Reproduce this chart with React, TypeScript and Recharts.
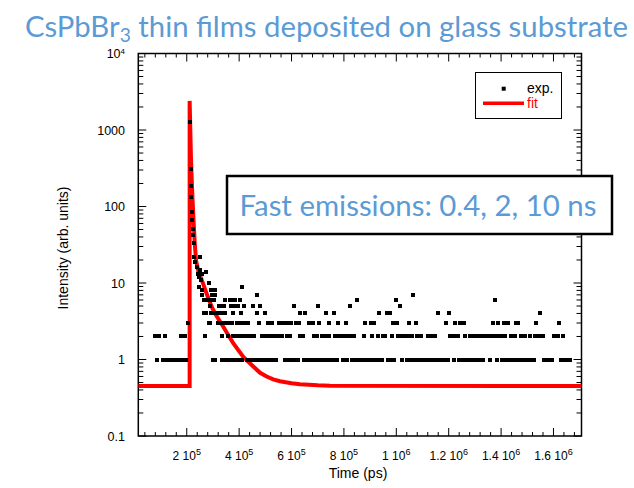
import React from 'react';
import { ComposedChart, Scatter, Line, XAxis, YAxis, Legend, ReferenceArea, Label } from 'recharts';

// ---------------- data ----------------
const T_UNIT = 1000; // time arrays below are in units of 10^3 ps

// experimental counts, grouped by count level (times in 10^3 ps)
const count1Times = [87, 108, 120, 131, 143, 154, 166, 177, 189, 197, 300, 308, 335, 346, 358, 369, 381, 392, 404, 411, 430, 442, 453, 465, 476, 488, 499, 511, 522, 534, 541, 575, 587, 598, 610, 621, 625, 648, 659, 671, 682, 694, 705, 717, 728, 740, 751, 763, 774, 797, 812, 831, 842, 854, 865, 877, 888, 900, 911, 923, 934, 945, 968, 980, 991, 1022, 1041, 1053, 1064, 1076, 1087, 1099, 1110, 1122, 1133, 1145, 1156, 1168, 1179, 1191, 1197, 1220, 1239, 1251, 1262, 1274, 1285, 1297, 1308, 1320, 1331, 1358, 1385, 1404, 1415, 1427, 1438, 1450, 1461, 1473, 1484, 1496, 1507, 1519, 1526, 1564, 1576, 1587, 1594, 1629, 1640, 1652, 1663];
const count2Times = [78, 86, 93, 116, 178, 192, 270, 335, 357, 376, 387, 399, 410, 422, 433, 445, 457, 487, 499, 510, 522, 533, 545, 556, 564, 583, 594, 633, 644, 684, 696, 717, 728, 740, 743, 766, 778, 789, 801, 812, 824, 835, 839, 877, 907, 930, 949, 957, 984, 1007, 1018, 1030, 1041, 1053, 1060, 1078, 1093, 1121, 1132, 1144, 1148, 1205, 1217, 1228, 1236, 1262, 1281, 1293, 1304, 1316, 1327, 1339, 1350, 1361, 1373, 1384, 1396, 1407, 1415, 1438, 1453, 1476, 1491, 1510, 1530, 1541, 1553, 1560, 1602, 1617, 1636];
const count3Times = [203, 284, 289, 320, 331, 343, 354, 366, 373, 392, 403, 415, 426, 434, 476, 510, 526, 551, 563, 574, 586, 597, 617, 628, 667, 682, 705, 743, 778, 809, 881, 904, 915, 988, 1003, 1049, 1075, 1190, 1224, 1243, 1259, 1369, 1388, 1411, 1427, 1457, 1465, 1533, 1621];
const count4Times = [266, 275, 293, 304, 316, 327, 339, 345, 376, 406, 468, 499, 633, 650, 732, 762, 934, 965, 976, 1159, 1201, 1549];
const count5Times = [290, 322, 333, 342, 368, 379, 391, 396, 418, 454, 480, 610, 701, 823, 1014];
const count6Times = [266, 278, 289, 300, 304, 345, 364, 376, 386, 405, 850, 999, 1377];
const count7Times = [257, 297, 309, 467, 1064];
const count8Times = [260, 294, 307];
const count9Times = [247, 410];
const count10Times = [284];

// points on the fast decay
const decayTimes = [213, 215, 216, 218, 219, 221, 222, 224, 226, 229, 231, 240, 243, 248, 249, 251, 253, 257, 274, 286, 299];
const decayCounts = [1260, 311, 188, 133, 85, 66, 51, 42, 33, 22, 19, 16, 13, 12, 15, 22, 11, 13, 14, 10, 8];

// fit curve (times in 10^3 ps)
const fitTimes = [15, 211, 211, 216, 220, 224, 230.5, 235.5, 245, 262, 281, 295, 308, 340, 378, 416, 454, 480, 505, 530, 556, 600, 632, 700, 747, 1707];
const fitValues = [0.45, 0.45, 2400, 430, 180, 88, 33, 19.6, 14, 9.9, 6.5, 4.9, 4.0, 2.66, 1.62, 1.08, 0.81, 0.67, 0.6, 0.55, 0.52, 0.49, 0.475, 0.46, 0.455, 0.45];

// axes
const xDomain = [15000, 1707000];
const yDomain = [0.1, 10000];
const xTicks = [40000, 80000, 120000, 160000, 200000, 240000, 280000, 320000, 360000, 400000, 440000, 480000, 520000, 560000, 600000, 640000, 680000, 720000, 760000, 800000, 840000, 880000, 920000, 960000, 1000000, 1040000, 1080000, 1120000, 1160000, 1200000, 1240000, 1280000, 1320000, 1360000, 1400000, 1440000, 1480000, 1520000, 1560000, 1600000, 1640000, 1680000];
const xMajorTicks = [200000, 400000, 600000, 800000, 1000000, 1200000, 1400000, 1600000];
const xMajorMantissa = ['2', '4', '6', '8', '1', '1.2', '1.4', '1.6'];
const xMajorExponent = ['5', '5', '5', '5', '6', '6', '6', '6'];
const yTicks = [0.1, 0.2, 0.3, 0.4, 0.5, 0.6, 0.7, 0.8, 0.9, 1, 2, 3, 4, 5, 6, 7, 8, 9, 10, 20, 30, 40, 50, 60, 70, 80, 90, 100, 200, 300, 400, 500, 600, 700, 800, 900, 1000, 2000, 3000, 4000, 5000, 6000, 7000, 8000, 9000, 10000];
const yMajorTicks = [0.1, 1, 10, 100, 1000, 10000];
const yMajorLabels = ['0.1', '1', '10', '100', '1000', '10'];
const yMajorSup = ['', '', '', '', '', '4'];

const titleMain = 'CsPbBr';
const titleSub = '3';
const titleRest = ' thin films deposited on glass substrate';
const noteText = 'Fast emissions: 0.4, 2, 10 ns';

// -------------- build tables --------------
const levels: [number, number[]][] = [
  [1, count1Times], [2, count2Times], [3, count3Times], [4, count4Times], [5, count5Times],
  [6, count6Times], [7, count7Times], [8, count8Times], [9, count9Times], [10, count10Times],
];
const expData = [
  ...levels.flatMap(([c, ts]) => ts.map((t) => ({ t: t * T_UNIT, v: c }))),
  ...decayTimes.map((t, i) => ({ t: t * T_UNIT, v: decayCounts[i] })),
];
const fitData = fitTimes.map((t, i) => ({ t: t * T_UNIT, v: fitValues[i] }));

// -------------- layout --------------
const W = 634, H = 488;
const PL = 138.3, PR = 581.5, PT = 53.5, PB = 436;
const FONT = '"Liberation Sans", Arial, sans-serif';
const TITLE_FONT = "Lato, 'Open Sans', sans-serif";
const BLUE = '#5b9bd5';

const XTick = (props: any) => {
  const { x, payload } = props;
  const v = payload.value;
  const idx = xMajorTicks.indexOf(v);
  const len = idx >= 0 ? 8 : 4;
  return (
    <g>
      <line x1={x} x2={x} y1={PB} y2={PB - len} stroke="#000" strokeWidth={1} />
      <line x1={x} x2={x} y1={PT} y2={PT + len} stroke="#000" strokeWidth={1} />
      {idx >= 0 && (
        <text x={x} y={PB + 24} textAnchor="middle" fontSize={12} fontFamily={FONT} fill="#000">
          {xMajorMantissa[idx] + ' 10'}
          <tspan dy={-5} fontSize={9}>{xMajorExponent[idx]}</tspan>
        </text>
      )}
    </g>
  );
};

const YTick = (props: any) => {
  const { y, payload } = props;
  const v = payload.value;
  const idx = yMajorTicks.indexOf(v);
  const len = idx >= 0 ? 8 : 5;
  return (
    <g>
      <line x1={PL} x2={PL + len} y1={y} y2={y} stroke="#000" strokeWidth={1} />
      <line x1={PR - len} x2={PR} y1={y} y2={y} stroke="#000" strokeWidth={1} />
      {idx >= 0 && (
        <text x={125} y={y + 4.5} textAnchor="end" fontSize={12.5} fontFamily={FONT} fill="#000">
          {yMajorLabels[idx]}
          {yMajorSup[idx] && <tspan dy={-4} fontSize={8}>{yMajorSup[idx]}</tspan>}
        </text>
      )}
    </g>
  );
};

const LegendBox = (props: any) => {
  const payload = props.payload || [];
  return (
    <svg width={87} height={47} style={{ display: 'block', background: '#fff' }}>
      <rect x={0.5} y={0.5} width={86} height={46} fill="#fff" stroke="#000" strokeWidth={1} />
      {payload.map((e: any, i: number) => {
        const cy = i === 0 ? 16.7 : 31.3;
        const base = i === 0 ? 21.3 : 35.7;
        const isLine = e.type === 'line';
        return (
          <g key={i}>
            {isLine ? (
              <line x1={8} x2={49} y1={cy} y2={cy} stroke={e.color} strokeWidth={3.5} />
            ) : (
              <rect x={26.7} y={cy - 2} width={4} height={4} fill={e.color} />
            )}
            <text x={52} y={base} fontSize={14} fontFamily={FONT} fill={isLine ? e.color : '#000'}>{e.value}</text>
          </g>
        );
      })}
    </svg>
  );
};

const square = (p: any) => (
  <rect x={Math.round(p.cx) - 2} y={Math.round(p.cy) - 2} width={4} height={4} fill="#000" shapeRendering="crispEdges" />
);

export default function App() {
  return (
    <div style={{ position: 'absolute', left: 0, top: 0, width: W, height: H, background: '#fff' }}>
      <ComposedChart width={W} height={H} margin={{ top: PT, right: W - PR, bottom: 0, left: 0 }}>
        <XAxis
          type="number"
          dataKey="t"
          domain={xDomain}
          allowDataOverflow
          ticks={xTicks}
          interval={0}
          tick={XTick}
          tickLine={false}
          axisLine={false}
          height={H - PB}
        >
          <Label content={() => (
            <text x={358} y={478} textAnchor="middle" fontSize={14} fontFamily={FONT} fill="#000">Time (ps)</text>
          )} />
        </XAxis>
        <YAxis
          type="number"
          dataKey="v"
          scale="log"
          domain={yDomain}
          allowDataOverflow
          ticks={yTicks}
          interval={0}
          tick={YTick}
          tickLine={false}
          axisLine={false}
          width={PL}
        >
          <Label content={() => (
            <text transform="translate(68,248) rotate(-90)" textAnchor="middle" fontSize={14} fontFamily={FONT} fill="#000">Intensity (arb. units)</text>
          )} />
        </YAxis>
        <Scatter name="exp." data={expData} dataKey="v" fill="#000" shape={square} legendType="square" isAnimationActive={false} />
        <Line name="fit" data={fitData} dataKey="v" type="linear" stroke="#ff0000" strokeWidth={4} dot={false} activeDot={false} legendType="line" isAnimationActive={false} />
        <ReferenceArea x1={xDomain[0]} x2={xDomain[1]} y1={yDomain[0]} y2={yDomain[1]} fill="none" fillOpacity={0} stroke="#000" strokeWidth={1.5} ifOverflow="visible" />
        <Legend
          layout="horizontal"
          verticalAlign="middle"
          align="center"
          wrapperStyle={{ left: 475, top: 72, width: 87, height: 47 }}
          content={LegendBox}
        />
      </ComposedChart>
      <svg width={W} height={H} style={{ position: 'absolute', left: 0, top: 0, pointerEvents: 'none' }}>
        <text x={25} y={37} fontFamily={TITLE_FONT} fontSize={29} fill={BLUE} textLength={603} lengthAdjust="spacingAndGlyphs">
          {titleMain}
          <tspan fontSize={19} dy={5}>{titleSub}</tspan>
          <tspan dy={-5}>{titleRest}</tspan>
        </text>
        <rect x={227} y={176} width={385} height={58} fill="#fff" stroke="#000" strokeWidth={2.5} />
        <text x={239.5} y={216} fontFamily={TITLE_FONT} fontSize={29} fill={BLUE} textLength={357} lengthAdjust="spacingAndGlyphs">
          {noteText}
        </text>
      </svg>
    </div>
  );
}
